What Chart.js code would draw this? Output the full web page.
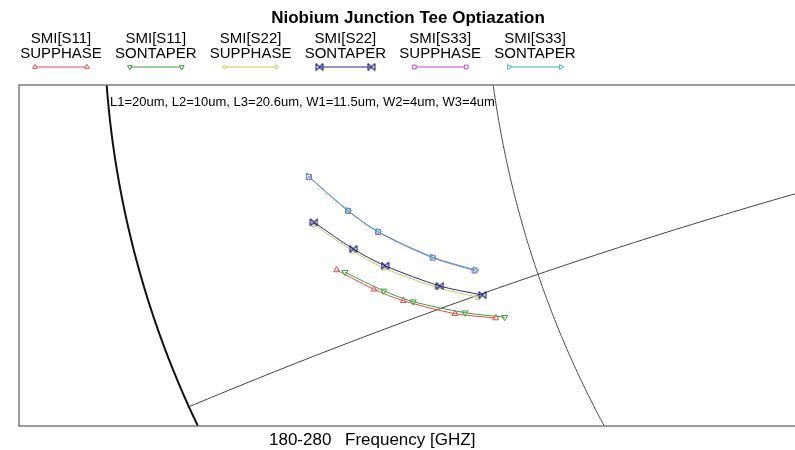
<!DOCTYPE html>
<html>
<head>
<meta charset="utf-8">
<title>Niobium Junction Tee Optiazation</title>
<script src="https://cdn.jsdelivr.net/npm/chart.js@4.4.1/dist/chart.umd.min.js"></script>
<style>
  html, body { margin: 0; padding: 0; background: #fff; }
</style>
</head>
<body>
<canvas id="smith" width="795" height="450"></canvas>
<script>
const chartTitle = "Niobium Junction Tee Optiazation";
const paramNote = "L1=20um, L2=10um, L3=20.6um, W1=11.5um, W2=4um, W3=4um";
const sweepRange = "180-280";
const sweepLabel = "Frequency [GHZ]";

// reflection coefficient (re, im) at the marker frequencies
const s11SupRe = [-0.7553, -0.7161, -0.6853, -0.6309, -0.5880];
const s11SupIm = [-0.2692, -0.2895, -0.3015, -0.3151, -0.3197];
const s11SonRe = [-0.7466, -0.7059, -0.6748, -0.6204, -0.5787];
const s11SonIm = [-0.2715, -0.2911, -0.3025, -0.3141, -0.3188];
const s22SupRe = [-0.7799, -0.7385, -0.7063, -0.6502, -0.6064];
const s22SupIm = [-0.2211, -0.2492, -0.2668, -0.2874, -0.2979];
const s22SonRe = [-0.7792, -0.7379, -0.7045, -0.6467, -0.6022];
const s22SonIm = [-0.2190, -0.2471, -0.2647, -0.2860, -0.2955];
const s33SupRe = [-0.7844, -0.7434, -0.7119, -0.6544, -0.6104];
const s33SupIm = [-0.1714, -0.2071, -0.2292, -0.2563, -0.2697];
const s33SonRe = [-0.7855, -0.7434, -0.7119, -0.6546, -0.6094];
const s33SonIm = [-0.1703, -0.2066, -0.2287, -0.2555, -0.2692];

const seriesNames = [
  ["SMI[S11]", "SUPPHASE"], ["SMI[S11]", "SONTAPER"],
  ["SMI[S22]", "SUPPHASE"], ["SMI[S22]", "SONTAPER"],
  ["SMI[S33]", "SUPPHASE"], ["SMI[S33]", "SONTAPER"]
];

// chart grid circles passing through this window: centre (re, im) and radius
const outerCircle = { re: 0, im: 0, r: 1 };
const gridCircles = [
  { re: 0.4553, im: 0.0677, r: 1.0557 },
  { re: 1.2966, im: -5.678, r: 5.709 }
];

// visible part of the reflection plane
const reMin = -1.0894, reMax = -0.2734;
const imMin = -0.4332, imMax = -0.0747;

const FONT = 'Arial, "Liberation Sans", sans-serif';

function bowtie(color) {
  const c = document.createElement("canvas");
  c.width = 9; c.height = 9;
  const g = c.getContext("2d");
  g.strokeStyle = color;
  g.lineWidth = 1.1;
  g.beginPath();
  g.moveTo(1, 1); g.lineTo(1, 8);
  g.moveTo(8, 1); g.lineTo(8, 8);
  g.moveTo(1, 1); g.lineTo(8, 8);
  g.moveTo(1, 8); g.lineTo(8, 1);
  g.stroke();
  return c;
}

function pts(re, im) {
  return re.map((v, i) => ({ x: v, y: im[i] }));
}

function series(re, im, color, style, rotation, radius, order) {
  return {
    data: pts(re, im),
    showLine: true,
    borderColor: color,
    borderWidth: 1,
    tension: 0.3,
    pointStyle: style,
    rotation: rotation,
    pointRadius: radius,
    pointBorderColor: color,
    pointBackgroundColor: "rgba(0,0,0,0)",
    pointBorderWidth: 1,
    order: order
  };
}

const colors = ["#dc5050", "#3c9e3c", "#c8c85a", "#2b2b7e", "#b64cc6", "#3cb2c4"];

// later series are painted over earlier ones
const datasets = [
  series(s11SupRe, s11SupIm, colors[0], "triangle", 0, 3.5, 6),
  series(s11SonRe, s11SonIm, colors[1], "triangle", 180, 3.5, 5),
  series(s22SupRe, s22SupIm, colors[2], "circle", 0, 2.5, 4),
  series(s22SonRe, s22SonIm, colors[3], bowtie(colors[3]), 0, 4, 3),
  series(s33SupRe, s33SupIm, colors[4], "rect", 0, 3.5, 2),
  series(s33SonRe, s33SonIm, colors[5], "triangle", 90, 3.5, 1)
];

const smithGrid = {
  id: "smithGrid",
  beforeDatasetsDraw(chart) {
    const { ctx, chartArea: a, scales: { x, y } } = chart;
    // big circles are traced point by point through the scales
    const circlePath = c => {
      const steps = 4000;
      ctx.beginPath();
      for (let i = 0; i <= steps; i++) {
        const t = (i / steps) * Math.PI * 2;
        const px = x.getPixelForValue(c.re + c.r * Math.cos(t));
        const py = y.getPixelForValue(c.im + c.r * Math.sin(t));
        if (i === 0) ctx.moveTo(px, py); else ctx.lineTo(px, py);
      }
      ctx.closePath();
    };
    ctx.save();
    ctx.beginPath();
    ctx.rect(a.left, a.top, chart.width - a.left, a.bottom - a.top);
    ctx.clip();

    circlePath(outerCircle);
    ctx.lineWidth = 2;
    ctx.strokeStyle = "#111";
    ctx.stroke();

    // inner grid stays inside the outer circle
    circlePath(outerCircle);
    ctx.clip();
    ctx.lineWidth = 1;
    ctx.strokeStyle = "#444";
    gridCircles.forEach(c => {
      circlePath(c);
      ctx.stroke();
    });
    ctx.restore();

    // frame: left, top and bottom edges
    ctx.save();
    ctx.strokeStyle = "#7a7a7a";
    ctx.lineWidth = 1.5;
    ctx.beginPath();
    ctx.moveTo(chart.width, a.top);
    ctx.lineTo(a.left, a.top);
    ctx.lineTo(a.left, a.bottom);
    ctx.lineTo(chart.width, a.bottom);
    ctx.stroke();
    ctx.restore();
  },
  afterDraw(chart) {
    const { ctx } = chart;
    ctx.save();
    ctx.fillStyle = "#000";
    ctx.textBaseline = "middle";
    ctx.textAlign = "center";

    ctx.font = "bold 17px " + FONT;
    ctx.fillText(chartTitle, 408, 18);

    // legend: two-line labels with a line sample underneath
    ctx.font = "15px " + FONT;
    seriesNames.forEach((name, i) => {
      const cx = 61 + i * 94.8;
      const ds = chart.data.datasets[i];
      ctx.fillStyle = "#000";
      ctx.fillText(name[0], cx, 39);
      ctx.fillText(name[1], cx, 54);
      ctx.strokeStyle = ds.borderColor;
      ctx.lineWidth = 1;
      ctx.beginPath();
      ctx.moveTo(cx - 26, 67);
      ctx.lineTo(cx + 26, 67);
      ctx.stroke();
      ctx.fillStyle = "#fff";
      [cx - 26, cx + 26].forEach(px => {
        Chart.helpers.drawPoint(ctx, {
          pointStyle: ds.pointStyle,
          radius: ds.pointRadius - 0.8,
          rotation: ds.rotation,
          borderWidth: 1
        }, px, 67);
      });
    });

    ctx.fillStyle = "#000";
    ctx.textAlign = "left";
    ctx.font = "13px " + FONT;
    ctx.fillText(paramNote, 110, 102);

    ctx.font = "17px " + FONT;
    ctx.fillText(sweepRange, 269, 440);
    ctx.fillText(sweepLabel, 345, 440);
    ctx.restore();
  }
};

new Chart(document.getElementById("smith"), {
  type: "scatter",
  data: { datasets },
  options: {
    responsive: false,
    animation: false,
    devicePixelRatio: 1,
    layout: { autoPadding: false, padding: { left: 19, top: 85, right: 0, bottom: 24 } },
    scales: {
      x: { type: "linear", min: reMin, max: reMax, display: false },
      y: { type: "linear", min: imMin, max: imMax, display: false }
    },
    plugins: {
      legend: { display: false },
      title: { display: false },
      tooltip: { enabled: false }
    }
  },
  plugins: [smithGrid]
});
</script>
</body>
</html>
